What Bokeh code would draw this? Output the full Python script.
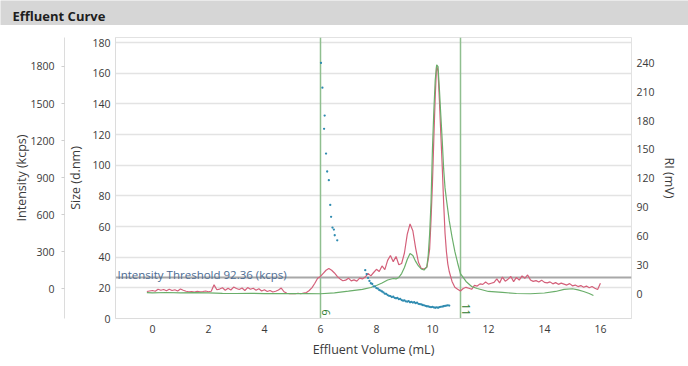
import math
from bokeh.plotting import figure
from bokeh.models import Range1d, LinearAxis, FixedTicker, Label
from bokeh.layouts import column
from bokeh.embed import file_html
from bokeh.resources import INLINE

# ---------------- data ----------------
title_text = "Effluent Curve"
volume_ticks = [0, 2, 4, 6, 8, 10, 12, 14, 16]
size_ticks = [0, 20, 40, 60, 80, 100, 120, 140, 160, 180]
intensity_ticks = [0, 300, 600, 900, 1200, 1500, 1800]
ri_ticks = [0, 30, 60, 90, 120, 150, 180, 210, 240]

threshold_kcps = 92.36
marker_volumes = [6, 11]
marker_labels = ["6", "11"]

# Intensity (kcps) trace
intensity_x = [
    -0.2, -0.1, 0.0, 0.1, 0.2, 0.3, 0.4, 0.5, 0.6, 0.7, 0.8, 0.9,
    1.0, 1.1, 1.2, 1.3, 1.4, 1.5, 1.6, 1.7, 1.8, 1.9,
    2.0, 2.1, 2.2, 2.3, 2.4, 2.5, 2.6, 2.7, 2.8, 2.9,
    3.0, 3.1, 3.2, 3.3, 3.4, 3.5, 3.6, 3.7, 3.8, 3.9,
    4.0, 4.1, 4.2, 4.3, 4.4, 4.5, 4.6, 4.7, 4.8, 4.9,
    5.0, 5.1, 5.2, 5.3, 5.4, 5.5, 5.6, 5.7, 5.8, 5.9,
    6.0, 6.1, 6.2, 6.3, 6.4, 6.5, 6.6, 6.7, 6.8, 6.9,
    7.0, 7.1, 7.2, 7.3, 7.4, 7.5, 7.6, 7.7, 7.8, 7.9,
    8.0, 8.1, 8.2, 8.3, 8.4, 8.5, 8.6, 8.7, 8.8, 8.9,
    9.0, 9.1, 9.2, 9.3, 9.4, 9.5, 9.6, 9.7, 9.8,
    9.85, 9.9, 9.95, 10.0, 10.05, 10.1, 10.15, 10.2, 10.25, 10.3,
    10.35, 10.4, 10.45, 10.5, 10.55, 10.6,
    10.7, 10.8, 10.9, 11.0, 11.1, 11.2, 11.3, 11.4, 11.5, 11.6, 11.7, 11.8, 11.9,
    12.0, 12.1, 12.2, 12.3, 12.4, 12.5, 12.6, 12.7, 12.8, 12.9,
    13.0, 13.1, 13.2, 13.3, 13.4, 13.5, 13.6, 13.7, 13.8, 13.9,
    14.0, 14.1, 14.2, 14.3, 14.4, 14.5, 14.6, 14.7, 14.8, 14.9,
    15.0, 15.1, 15.2, 15.3, 15.4, 15.5, 15.6, 15.7, 15.8, 15.9, 16.0,
]
intensity_kcps = [
    -22, -18, -14, -20, -4, -12, -6, -16, -3, -14, -8, -18,
    -2, -12, -20, -24, -22, -26, -20, -24, -22, -18,
    -24, -20, 32, -8, -2, 8, -12, 4, -10, 14,
    2, -6, 6, -14, 10, -4, 4, -12, 0, -18,
    -8, -22, -14, -26, -20, -10, 6, -24, -36, -40,
    -38, -40, -36, -40, -34, -30, -14, 10, 45, 85,
    100, 125, 150, 165, 150, 128, 100, 80, 65, 70,
    86, 64, 72, 62, 86, 80, 95, 125, 105, 132,
    158, 140, 185, 155, 230, 270, 220, 262, 195, 205,
    290, 440, 525, 470, 330, 215, 165, 160, 175,
    240, 320, 560, 850, 1220, 1560, 1810, 1760, 1520, 1250,
    990, 700, 450, 300, 200, 140,
    60, 12, -4, -18, 2, 12, 4, -4, 28, 22, 40, 36, 55,
    38, 45, 52, 80, 48, 95, 62, 78, 100, 58,
    92, 70, 104, 85, 112, 72, 60, 66, 55, 70,
    52, 48, 56, 40, 50, 36, 46, 38, 30, 42,
    24, 30, 18, 26, 12, 22, 8, 18, 4, -6, 45,
]

# RI (mV) trace
ri_x = [
    -0.2, 0.0, 0.5, 1.0, 1.5, 2.0, 2.5, 3.0, 3.5, 4.0, 4.5, 5.0, 5.5, 6.0,
    6.5, 7.0, 7.5, 7.8, 8.0, 8.2, 8.4, 8.6, 8.7, 8.8, 8.9,
    9.0, 9.1, 9.2, 9.3, 9.4, 9.5, 9.6, 9.7, 9.8, 9.85, 9.9, 9.95,
    10.0, 10.05, 10.1, 10.15, 10.2, 10.25, 10.3, 10.35, 10.4, 10.45, 10.5,
    10.6, 10.7, 10.8, 10.9, 11.0, 11.2, 11.4, 11.6, 12.0, 12.5, 13.0, 13.5,
    14.0, 14.4, 14.7, 15.0, 15.2, 15.4, 15.6, 15.75,
]
ri_mv = [
    1.2, 1.0, 1.3, 1.0, 1.2, 0.9, 0.4, 0.3, 0.5, 0.2, 0.3, 0.1, 0.2, 0.0,
    1.0, 2.7, 4.5, 6.5, 8.6, 11.2, 14.3, 15.9, 15.4, 17.0, 21.0,
    27.3, 35.6, 41.9, 39.8, 33.6, 28.9, 25.8, 24.7, 28.0, 40.0, 62.0, 95.0,
    150.0, 190.0, 222.0, 238.0, 236.0, 212.0, 185.0, 159.0, 130.0, 110.0, 98.0,
    76.0, 59.0, 44.0, 32.0, 21.0, 12.8, 7.6, 5.5, 2.4, 1.4, 0.3, 0.0,
    0.8, 2.4, 4.5, 5.2, 4.0, 2.4, 0.3, -1.8,
]

# Size (d.nm) points
size_x = [
    6.02, 6.07, 6.13, 6.15, 6.20, 6.24, 6.30, 6.35, 6.38, 6.43, 6.48, 6.51, 6.60,
    7.60, 7.65, 7.70, 7.75, 7.80, 7.85, 7.90, 7.95, 8.00, 8.05, 8.10, 8.15,
    8.20, 8.25, 8.30, 8.35, 8.40, 8.45, 8.50, 8.55, 8.60, 8.65, 8.70, 8.75,
    8.80, 8.85, 8.90, 8.95, 9.00, 9.05, 9.10, 9.15, 9.20, 9.25, 9.30, 9.35,
    9.40, 9.45, 9.50, 9.55, 9.60, 9.65, 9.70, 9.75, 9.80, 9.85, 9.90, 9.95,
    10.00, 10.05, 10.10, 10.15, 10.20, 10.25, 10.30, 10.35, 10.40, 10.45,
    10.50, 10.55, 10.60,
]
size_dnm = [
    166.7, 150.6, 123.7, 132.4, 107.6, 95.9, 90.2, 74.1, 66.3, 59.3, 58.0, 54.3, 51.0,
    31.5, 29.0, 26.5, 24.5, 23.0, 22.5, 21.0, 20.8, 19.8, 19.5, 18.6, 18.2,
    17.6, 17.0, 16.2, 16.0, 15.3, 14.8, 14.6, 14.0, 14.2, 13.5, 13.2, 13.4,
    12.6, 12.8, 12.0, 11.6, 11.8, 11.2, 11.0, 11.3, 10.6, 10.8, 10.4, 10.6,
    10.0, 10.3, 9.6, 9.4, 9.2, 8.8, 8.6, 8.3, 8.0, 7.9, 7.6, 7.4,
    7.6, 7.2, 7.0, 7.3, 7.0, 7.4, 7.6, 7.8, 8.0, 8.2,
    8.4, 8.6, 8.4,
]

# ---------------- styling ----------------
FONT = "Open Sans"
TEXT = "#3a3a3a"
W = 688

# header band
hdr = figure(width=W, height=25, x_range=Range1d(0, 1), y_range=Range1d(0, 1),
             output_backend="svg", toolbar_location=None,
             x_axis_location=None, y_axis_location=None, min_border=0)
try:
    hdr.frame_align = False
except Exception:
    pass
hdr.grid.visible = False
hdr.background_fill_color = "#d6d6d6"
hdr.border_fill_color = "#d6d6d6"
hdr.outline_line_color = None
hdr.add_layout(Label(x=12, y=10, x_units="screen", y_units="screen", text=title_text,
                     text_font=FONT, text_font_size="13px", text_font_style="bold",
                     text_color="#1e1e1e", text_baseline="middle"))

# main chart
p = figure(width=W, height=341,
           x_range=Range1d(-1.32, 17.11), y_range=Range1d(0, 183.3),
           output_backend="svg", toolbar_location=None,
           min_border_left=115, min_border_right=57, min_border_top=12, min_border_bottom=48)
try:
    p.frame_align = False
except Exception:
    pass
p.extra_y_ranges = {"intensity": Range1d(-240.5, 2034.8), "ri": Range1d(-25.7, 266.3)}
p.background_fill_color = "white"
p.border_fill_color = "white"
p.outline_line_color = "#e2e2e2"

p.xgrid.visible = False
p.ygrid.ticker = FixedTicker(ticks=size_ticks)
p.ygrid.grid_line_color = "#e3e3e3"
p.ygrid.grid_line_width = 1.5

def style_axis(ax, tick_out, lbl_standoff, axlbl_standoff):
    ax.major_label_text_font = FONT
    ax.major_label_text_font_size = "10.5px"
    ax.major_label_text_color = TEXT
    ax.axis_label_text_font = FONT
    ax.axis_label_text_font_size = "12.5px"
    ax.axis_label_text_font_style = "normal"
    ax.axis_label_text_color = TEXT
    ax.axis_line_color = "#dcdcdc"
    ax.major_tick_line_color = "#cfcfcf"
    ax.major_tick_out = tick_out
    ax.major_tick_in = 0
    ax.minor_tick_line_color = None
    ax.major_label_standoff = lbl_standoff
    ax.axis_label_standoff = axlbl_standoff

xa = p.xaxis[0]
xa.ticker = FixedTicker(ticks=volume_ticks)
xa.axis_label = "Effluent Volume (mL)"
style_axis(xa, 0, 6, 5)

ya = p.yaxis[0]
ya.ticker = FixedTicker(ticks=size_ticks)
ya.axis_label = "Size (d.nm)"
style_axis(ya, 0, 5, 5)

ia = LinearAxis(y_range_name="intensity", ticker=FixedTicker(ticks=intensity_ticks),
                axis_label="Intensity (kcps)")
style_axis(ia, 3, 7, -3)
p.add_layout(ia, "left")

ra = LinearAxis(y_range_name="ri", ticker=FixedTicker(ticks=ri_ticks), axis_label="RI (mV)")
style_axis(ra, 0, 5, 3)
ra.axis_line_color = None
p.add_layout(ra, "right")

# marker lines and threshold
p.vspan(x=marker_volumes, line_color="#8fbf8f", line_width=1.5)
p.hspan(y=[threshold_kcps], y_range_name="intensity", line_color="#a8a8a8", line_width=2)

# traces
p.line(intensity_x, intensity_kcps, y_range_name="intensity", line_color="#d4607a", line_width=1.2)
p.line(ri_x, ri_mv, y_range_name="ri", line_color="#6aae6a", line_width=1.2)
p.scatter(size_x, size_dnm, size=2.3, marker="circle", fill_color="#2f8bb0", line_color=None)

p.add_layout(Label(x=-1.32, y=threshold_kcps, y_range_name="intensity", x_offset=2, y_offset=3,
                   text="Intensity Threshold %.2f (kcps)" % threshold_kcps,
                   text_font=FONT, text_font_size="11.5px", text_color="#4c6c93",
                   text_baseline="alphabetic"))

for mv, ml in zip(marker_volumes, marker_labels):
    p.add_layout(Label(x=mv, y=0, x_offset=6, y_offset=3, text=ml, angle=-math.pi / 2,
                       text_font=FONT, text_font_size="10.5px", text_color="#2c7a2c",
                       text_align="right", text_baseline="alphabetic"))

layout = column(hdr, p, spacing=0)
open("out.html", "w").write(file_html(layout, INLINE))
